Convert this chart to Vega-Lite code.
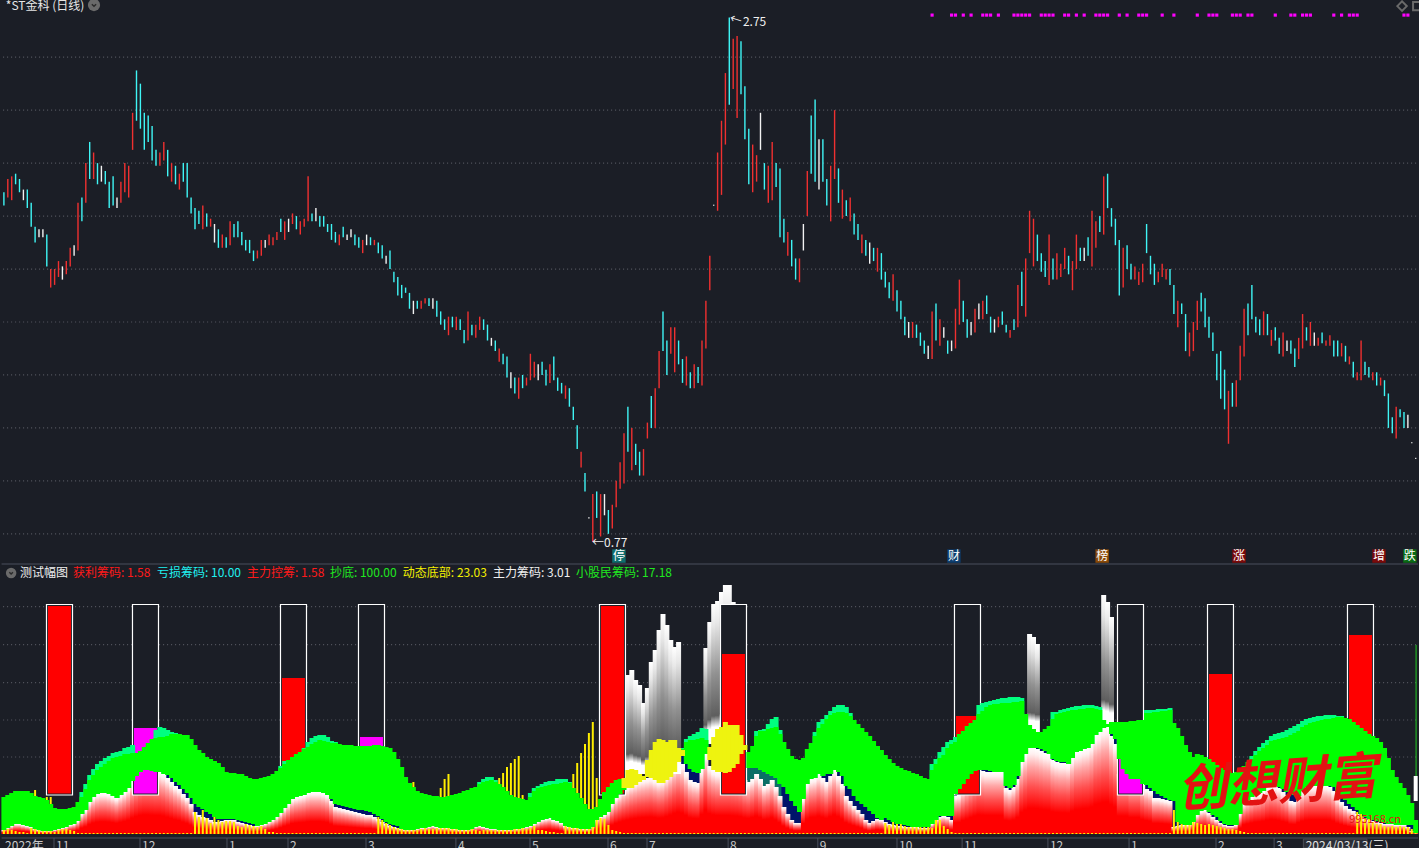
{"$schema":"https://vega.github.io/schema/vega-lite/v6.json","padding":0,"spacing":0,"bounds":"flush","background":"#1b1e26","config":{"view":{"stroke":null},"text":{"font":"Noto Sans CJK SC"},"axis":{"title":null,"labels":false,"ticks":false,"domain":false,"grid":false}},"resolve":{"scale":{"color":"independent","fill":"independent","x":"independent","y":"independent"}},
"datasets":{
"candles":[
{"i":1,"low":2.04,"high":2.09,"dir":"down"},{"i":2,"low":2.07,"high":2.14,"dir":"up"},{"i":3,"low":2.06,"high":2.15,"dir":"up"},{"i":4,"low":2.12,"high":2.16,"dir":"down"},{"i":5,"low":2.09,"high":2.14,"dir":"down"},{"i":6,"low":2.06,"high":2.10,"dir":"flat"},{"i":7,"low":2.03,"high":2.10,"dir":"down"},{"i":8,"low":1.96,"high":2.05,"dir":"down"},{"i":9,"low":1.90,"high":1.96,"dir":"down"},{"i":10,"low":1.92,"high":1.95,"dir":"flat"},
{"i":11,"low":1.92,"high":1.95,"dir":"flat"},{"i":12,"low":1.81,"high":1.93,"dir":"down"},{"i":13,"low":1.73,"high":1.80,"dir":"up"},{"i":14,"low":1.74,"high":1.80,"dir":"up"},{"i":15,"low":1.77,"high":1.83,"dir":"up"},{"i":16,"low":1.76,"high":1.81,"dir":"flat"},{"i":17,"low":1.78,"high":1.83,"dir":"up"},{"i":18,"low":1.81,"high":1.88,"dir":"up"},{"i":19,"low":1.85,"high":1.89,"dir":"flat"},{"i":20,"low":1.87,"high":2.05,"dir":"up"},
{"i":21,"low":1.98,"high":2.07,"dir":"down"},{"i":22,"low":2.05,"high":2.20,"dir":"up"},{"i":23,"low":2.14,"high":2.28,"dir":"down"},{"i":24,"low":2.14,"high":2.24,"dir":"up"},{"i":25,"low":2.12,"high":2.20,"dir":"down"},{"i":26,"low":2.13,"high":2.19,"dir":"flat"},{"i":27,"low":2.12,"high":2.17,"dir":"down"},{"i":28,"low":2.03,"high":2.13,"dir":"down"},{"i":29,"low":2.04,"high":2.15,"dir":"down"},{"i":30,"low":2.03,"high":2.07,"dir":"flat"},
{"i":31,"low":2.05,"high":2.13,"dir":"up"},{"i":32,"low":2.09,"high":2.20,"dir":"up"},{"i":33,"low":2.07,"high":2.19,"dir":"up"},{"i":34,"low":2.25,"high":2.39,"dir":"up"},{"i":35,"low":2.36,"high":2.55,"dir":"down"},{"i":36,"low":2.33,"high":2.50,"dir":"down"},{"i":37,"low":2.25,"high":2.39,"dir":"down"},{"i":38,"low":2.28,"high":2.38,"dir":"down"},{"i":39,"low":2.21,"high":2.34,"dir":"down"},{"i":40,"low":2.19,"high":2.25,"dir":"down"},
{"i":41,"low":2.19,"high":2.24,"dir":"up"},{"i":42,"low":2.21,"high":2.28,"dir":"up"},{"i":43,"low":2.15,"high":2.25,"dir":"down"},{"i":44,"low":2.13,"high":2.20,"dir":"up"},{"i":45,"low":2.12,"high":2.19,"dir":"down"},{"i":46,"low":2.10,"high":2.16,"dir":"up"},{"i":47,"low":2.13,"high":2.20,"dir":"down"},{"i":48,"low":2.07,"high":2.20,"dir":"down"},{"i":49,"low":2.01,"high":2.07,"dir":"down"},{"i":50,"low":1.95,"high":2.03,"dir":"down"},
{"i":51,"low":1.97,"high":2.02,"dir":"down"},{"i":52,"low":1.95,"high":2.04,"dir":"up"},{"i":53,"low":1.96,"high":2.01,"dir":"down"},{"i":54,"low":1.96,"high":1.99,"dir":"up"},{"i":55,"low":1.90,"high":1.97,"dir":"flat"},{"i":56,"low":1.88,"high":1.95,"dir":"down"},{"i":57,"low":1.88,"high":1.93,"dir":"up"},{"i":58,"low":1.88,"high":1.92,"dir":"down"},{"i":59,"low":1.89,"high":1.98,"dir":"up"},{"i":60,"low":1.92,"high":1.97,"dir":"down"},
{"i":61,"low":1.92,"high":1.98,"dir":"down"},{"i":62,"low":1.89,"high":1.94,"dir":"down"},{"i":63,"low":1.87,"high":1.91,"dir":"down"},{"i":64,"low":1.86,"high":1.91,"dir":"down"},{"i":65,"low":1.83,"high":1.87,"dir":"down"},{"i":66,"low":1.84,"high":1.87,"dir":"up"},{"i":67,"low":1.85,"high":1.91,"dir":"up"},{"i":68,"low":1.88,"high":1.91,"dir":"flat"},{"i":69,"low":1.89,"high":1.93,"dir":"up"},{"i":70,"low":1.89,"high":1.92,"dir":"up"},
{"i":71,"low":1.91,"high":1.94,"dir":"up"},{"i":72,"low":1.94,"high":1.99,"dir":"down"},{"i":73,"low":1.91,"high":1.98,"dir":"up"},{"i":74,"low":1.94,"high":1.99,"dir":"flat"},{"i":75,"low":1.97,"high":2.01,"dir":"up"},{"i":76,"low":1.95,"high":2.00,"dir":"down"},{"i":77,"low":1.93,"high":1.98,"dir":"up"},{"i":78,"low":1.96,"high":1.99,"dir":"up"},{"i":79,"low":1.98,"high":2.15,"dir":"up"},{"i":80,"low":1.98,"high":2.01,"dir":"down"},
{"i":81,"low":1.98,"high":2.03,"dir":"flat"},{"i":82,"low":1.96,"high":2.00,"dir":"down"},{"i":83,"low":1.96,"high":2.00,"dir":"down"},{"i":84,"low":1.94,"high":1.97,"dir":"down"},{"i":85,"low":1.91,"high":1.97,"dir":"down"},{"i":86,"low":1.90,"high":1.94,"dir":"down"},{"i":87,"low":1.89,"high":1.93,"dir":"up"},{"i":88,"low":1.92,"high":1.96,"dir":"down"},{"i":89,"low":1.91,"high":1.93,"dir":"flat"},{"i":90,"low":1.92,"high":1.95,"dir":"flat"},
{"i":91,"low":1.89,"high":1.93,"dir":"down"},{"i":92,"low":1.88,"high":1.92,"dir":"down"},{"i":93,"low":1.86,"high":1.91,"dir":"up"},{"i":94,"low":1.89,"high":1.93,"dir":"flat"},{"i":95,"low":1.89,"high":1.92,"dir":"down"},{"i":96,"low":1.89,"high":1.91,"dir":"up"},{"i":97,"low":1.86,"high":1.90,"dir":"down"},{"i":98,"low":1.84,"high":1.89,"dir":"down"},{"i":99,"low":1.82,"high":1.85,"dir":"flat"},{"i":100,"low":1.80,"high":1.87,"dir":"down"},
{"i":101,"low":1.75,"high":1.79,"dir":"down"},{"i":102,"low":1.70,"high":1.77,"dir":"down"},{"i":103,"low":1.69,"high":1.74,"dir":"down"},{"i":104,"low":1.71,"high":1.73,"dir":"down"},{"i":105,"low":1.65,"high":1.71,"dir":"down"},{"i":106,"low":1.63,"high":1.68,"dir":"flat"},{"i":107,"low":1.65,"high":1.68,"dir":"down"},{"i":108,"low":1.65,"high":1.68,"dir":"up"},{"i":109,"low":1.67,"high":1.69,"dir":"up"},{"i":110,"low":1.66,"high":1.69,"dir":"down"},
{"i":111,"low":1.65,"high":1.69,"dir":"flat"},{"i":112,"low":1.62,"high":1.68,"dir":"down"},{"i":113,"low":1.59,"high":1.64,"dir":"down"},{"i":114,"low":1.57,"high":1.61,"dir":"down"},{"i":115,"low":1.55,"high":1.62,"dir":"up"},{"i":116,"low":1.58,"high":1.62,"dir":"down"},{"i":117,"low":1.57,"high":1.62,"dir":"up"},{"i":118,"low":1.57,"high":1.61,"dir":"down"},{"i":119,"low":1.52,"high":1.57,"dir":"down"},{"i":120,"low":1.53,"high":1.64,"dir":"up"},
{"i":121,"low":1.55,"high":1.59,"dir":"down"},{"i":122,"low":1.54,"high":1.59,"dir":"up"},{"i":123,"low":1.57,"high":1.62,"dir":"up"},{"i":124,"low":1.57,"high":1.61,"dir":"down"},{"i":125,"low":1.53,"high":1.59,"dir":"down"},{"i":126,"low":1.51,"high":1.54,"dir":"flat"},{"i":127,"low":1.49,"high":1.53,"dir":"down"},{"i":128,"low":1.45,"high":1.50,"dir":"up"},{"i":129,"low":1.44,"high":1.48,"dir":"down"},{"i":130,"low":1.39,"high":1.47,"dir":"down"},
{"i":131,"low":1.35,"high":1.41,"dir":"flat"},{"i":132,"low":1.33,"high":1.39,"dir":"down"},{"i":133,"low":1.31,"high":1.39,"dir":"up"},{"i":134,"low":1.35,"high":1.40,"dir":"down"},{"i":135,"low":1.36,"high":1.39,"dir":"up"},{"i":136,"low":1.38,"high":1.48,"dir":"up"},{"i":137,"low":1.39,"high":1.45,"dir":"up"},{"i":138,"low":1.38,"high":1.44,"dir":"flat"},{"i":139,"low":1.40,"high":1.45,"dir":"down"},{"i":140,"low":1.36,"high":1.42,"dir":"down"},
{"i":141,"low":1.37,"high":1.44,"dir":"up"},{"i":142,"low":1.38,"high":1.47,"dir":"down"},{"i":143,"low":1.34,"high":1.39,"dir":"down"},{"i":144,"low":1.33,"high":1.37,"dir":"down"},{"i":145,"low":1.31,"high":1.36,"dir":"up"},{"i":146,"low":1.28,"high":1.35,"dir":"down"},{"i":147,"low":1.23,"high":1.28,"dir":"down"},{"i":148,"low":1.12,"high":1.21,"dir":"down"},{"i":149,"low":1.05,"high":1.11,"dir":"up"},{"i":150,"low":0.96,"high":1.03,"dir":"down"},
{"i":151,"low":0.858,"high":0.863,"dir":"flat"},{"i":152,"low":0.77,"high":0.95,"dir":"up"},{"i":153,"low":0.86,"high":0.96,"dir":"down"},{"i":154,"low":0.79,"high":0.95,"dir":"up"},{"i":155,"low":0.87,"high":0.95,"dir":"flat"},{"i":156,"low":0.80,"high":0.89,"dir":"down"},{"i":157,"low":0.82,"high":0.91,"dir":"up"},{"i":158,"low":0.90,"high":1.00,"dir":"up"},{"i":159,"low":0.97,"high":1.07,"dir":"up"},{"i":160,"low":0.99,"high":1.18,"dir":"up"},
{"i":161,"low":1.11,"high":1.28,"dir":"down"},{"i":162,"low":1.04,"high":1.20,"dir":"up"},{"i":163,"low":1.06,"high":1.14,"dir":"down"},{"i":164,"low":1.02,"high":1.11,"dir":"down"},{"i":165,"low":1.02,"high":1.12,"dir":"up"},{"i":166,"low":1.16,"high":1.22,"dir":"up"},{"i":167,"low":1.20,"high":1.32,"dir":"down"},{"i":168,"low":1.20,"high":1.35,"dir":"up"},{"i":169,"low":1.35,"high":1.49,"dir":"up"},{"i":170,"low":1.49,"high":1.64,"dir":"down"},
{"i":171,"low":1.40,"high":1.53,"dir":"down"},{"i":172,"low":1.48,"high":1.58,"dir":"up"},{"i":173,"low":1.41,"high":1.58,"dir":"up"},{"i":174,"low":1.44,"high":1.53,"dir":"down"},{"i":175,"low":1.37,"high":1.46,"dir":"down"},{"i":176,"low":1.36,"high":1.47,"dir":"up"},{"i":177,"low":1.35,"high":1.41,"dir":"down"},{"i":178,"low":1.35,"high":1.44,"dir":"up"},{"i":179,"low":1.37,"high":1.43,"dir":"down"},{"i":180,"low":1.36,"high":1.53,"dir":"up"},
{"i":181,"low":1.50,"high":1.68,"dir":"up"},{"i":182,"low":1.72,"high":1.85,"dir":"up"},{"i":183,"low":2.039,"high":2.043,"dir":"flat"},{"i":184,"low":2.02,"high":2.24,"dir":"up"},{"i":185,"low":2.08,"high":2.36,"dir":"up"},{"i":186,"low":2.27,"high":2.54,"dir":"up"},{"i":187,"low":2.42,"high":2.75,"dir":"down"},{"i":188,"low":2.48,"high":2.67,"dir":"up"},{"i":189,"low":2.37,"high":2.68,"dir":"up"},{"i":190,"low":2.46,"high":2.66,"dir":"down"},
{"i":191,"low":2.29,"high":2.49,"dir":"down"},{"i":192,"low":2.12,"high":2.33,"dir":"down"},{"i":193,"low":2.09,"high":2.27,"dir":"up"},{"i":194,"low":2.13,"high":2.23,"dir":"up"},{"i":195,"low":2.25,"high":2.39,"dir":"flat"},{"i":196,"low":2.10,"high":2.20,"dir":"down"},{"i":197,"low":2.05,"high":2.19,"dir":"up"},{"i":198,"low":2.06,"high":2.28,"dir":"up"},{"i":199,"low":2.11,"high":2.20,"dir":"down"},{"i":200,"low":1.92,"high":2.18,"dir":"down"},
{"i":201,"low":1.90,"high":1.99,"dir":"down"},{"i":202,"low":1.85,"high":1.94,"dir":"up"},{"i":203,"low":1.81,"high":1.91,"dir":"down"},{"i":204,"low":1.76,"high":1.84,"dir":"down"},{"i":205,"low":1.75,"high":1.84,"dir":"up"},{"i":206,"low":1.87,"high":1.97,"dir":"flat"},{"i":207,"low":2.00,"high":2.17,"dir":"up"},{"i":208,"low":2.16,"high":2.38,"dir":"down"},{"i":209,"low":2.13,"high":2.44,"dir":"down"},{"i":210,"low":2.10,"high":2.29,"dir":"flat"},
{"i":211,"low":2.13,"high":2.29,"dir":"down"},{"i":212,"low":2.04,"high":2.14,"dir":"down"},{"i":213,"low":1.98,"high":2.19,"dir":"up"},{"i":214,"low":2.14,"high":2.40,"dir":"up"},{"i":215,"low":2.05,"high":2.18,"dir":"down"},{"i":216,"low":1.99,"high":2.10,"dir":"up"},{"i":217,"low":2.00,"high":2.06,"dir":"down"},{"i":218,"low":1.98,"high":2.07,"dir":"up"},{"i":219,"low":1.93,"high":2.01,"dir":"down"},{"i":220,"low":1.91,"high":1.97,"dir":"down"},
{"i":221,"low":1.86,"high":1.93,"dir":"up"},{"i":222,"low":1.85,"high":1.91,"dir":"down"},{"i":223,"low":1.82,"high":1.90,"dir":"flat"},{"i":224,"low":1.83,"high":1.88,"dir":"down"},{"i":225,"low":1.79,"high":1.88,"dir":"up"},{"i":226,"low":1.76,"high":1.86,"dir":"down"},{"i":227,"low":1.73,"high":1.79,"dir":"down"},{"i":228,"low":1.69,"high":1.75,"dir":"down"},{"i":229,"low":1.68,"high":1.78,"dir":"up"},{"i":230,"low":1.64,"high":1.72,"dir":"down"},
{"i":231,"low":1.61,"high":1.68,"dir":"down"},{"i":232,"low":1.55,"high":1.62,"dir":"down"},{"i":233,"low":1.54,"high":1.60,"dir":"flat"},{"i":234,"low":1.54,"high":1.60,"dir":"up"},{"i":235,"low":1.54,"high":1.59,"dir":"down"},{"i":236,"low":1.51,"high":1.56,"dir":"down"},{"i":237,"low":1.48,"high":1.53,"dir":"down"},{"i":238,"low":1.46,"high":1.51,"dir":"flat"},{"i":239,"low":1.46,"high":1.64,"dir":"up"},{"i":240,"low":1.53,"high":1.67,"dir":"down"},
{"i":241,"low":1.51,"high":1.61,"dir":"up"},{"i":242,"low":1.54,"high":1.58,"dir":"flat"},{"i":243,"low":1.48,"high":1.53,"dir":"down"},{"i":244,"low":1.49,"high":1.53,"dir":"flat"},{"i":245,"low":1.50,"high":1.65,"dir":"up"},{"i":246,"low":1.59,"high":1.76,"dir":"up"},{"i":247,"low":1.60,"high":1.68,"dir":"down"},{"i":248,"low":1.54,"high":1.61,"dir":"down"},{"i":249,"low":1.55,"high":1.60,"dir":"flat"},{"i":250,"low":1.56,"high":1.65,"dir":"up"},
{"i":251,"low":1.61,"high":1.67,"dir":"flat"},{"i":252,"low":1.61,"high":1.68,"dir":"up"},{"i":253,"low":1.63,"high":1.70,"dir":"down"},{"i":254,"low":1.56,"high":1.62,"dir":"down"},{"i":255,"low":1.56,"high":1.61,"dir":"flat"},{"i":256,"low":1.58,"high":1.62,"dir":"up"},{"i":257,"low":1.59,"high":1.64,"dir":"down"},{"i":258,"low":1.56,"high":1.59,"dir":"down"},{"i":259,"low":1.54,"high":1.57,"dir":"up"},{"i":260,"low":1.57,"high":1.61,"dir":"down"},
{"i":261,"low":1.58,"high":1.74,"dir":"up"},{"i":262,"low":1.66,"high":1.79,"dir":"down"},{"i":263,"low":1.62,"high":1.84,"dir":"up"},{"i":264,"low":1.86,"high":2.02,"dir":"up"},{"i":265,"low":1.81,"high":1.99,"dir":"up"},{"i":266,"low":1.83,"high":1.93,"dir":"down"},{"i":267,"low":1.79,"high":1.86,"dir":"down"},{"i":268,"low":1.77,"high":1.83,"dir":"down"},{"i":269,"low":1.74,"high":1.93,"dir":"up"},{"i":270,"low":1.76,"high":1.84,"dir":"down"},
{"i":271,"low":1.76,"high":1.86,"dir":"up"},{"i":272,"low":1.77,"high":1.82,"dir":"up"},{"i":273,"low":1.80,"high":1.88,"dir":"up"},{"i":274,"low":1.78,"high":1.85,"dir":"down"},{"i":275,"low":1.72,"high":1.83,"dir":"up"},{"i":276,"low":1.80,"high":1.93,"dir":"up"},{"i":277,"low":1.83,"high":1.88,"dir":"down"},{"i":278,"low":1.83,"high":1.88,"dir":"flat"},{"i":279,"low":1.85,"high":1.92,"dir":"down"},{"i":280,"low":1.81,"high":2.02,"dir":"up"},
{"i":281,"low":1.88,"high":1.98,"dir":"up"},{"i":282,"low":1.94,"high":2.00,"dir":"down"},{"i":283,"low":1.93,"high":2.15,"dir":"up"},{"i":284,"low":2.03,"high":2.16,"dir":"down"},{"i":285,"low":1.96,"high":2.03,"dir":"down"},{"i":286,"low":1.89,"high":1.99,"dir":"down"},{"i":287,"low":1.70,"high":1.91,"dir":"down"},{"i":288,"low":1.73,"high":1.88,"dir":"up"},{"i":289,"low":1.80,"high":1.89,"dir":"down"},{"i":290,"low":1.76,"high":1.82,"dir":"down"},
{"i":291,"low":1.76,"high":1.81,"dir":"up"},{"i":292,"low":1.74,"high":1.79,"dir":"up"},{"i":293,"low":1.75,"high":1.82,"dir":"up"},{"i":294,"low":1.86,"high":1.97,"dir":"down"},{"i":295,"low":1.78,"high":1.85,"dir":"down"},{"i":296,"low":1.74,"high":1.82,"dir":"down"},{"i":297,"low":1.75,"high":1.79,"dir":"up"},{"i":298,"low":1.77,"high":1.82,"dir":"up"},{"i":299,"low":1.76,"high":1.80,"dir":"up"},{"i":300,"low":1.74,"high":1.80,"dir":"down"},
{"i":301,"low":1.63,"high":1.74,"dir":"down"},{"i":302,"low":1.58,"high":1.68,"dir":"up"},{"i":303,"low":1.63,"high":1.67,"dir":"down"},{"i":304,"low":1.49,"high":1.63,"dir":"down"},{"i":305,"low":1.47,"high":1.56,"dir":"up"},{"i":306,"low":1.49,"high":1.60,"dir":"up"},{"i":307,"low":1.57,"high":1.68,"dir":"up"},{"i":308,"low":1.64,"high":1.71,"dir":"down"},{"i":309,"low":1.58,"high":1.69,"dir":"down"},{"i":310,"low":1.54,"high":1.62,"dir":"down"},
{"i":311,"low":1.49,"high":1.56,"dir":"down"},{"i":312,"low":1.38,"high":1.48,"dir":"down"},{"i":313,"low":1.31,"high":1.49,"dir":"down"},{"i":314,"low":1.27,"high":1.42,"dir":"down"},{"i":315,"low":1.14,"high":1.34,"dir":"up"},{"i":316,"low":1.28,"high":1.37,"dir":"down"},{"i":317,"low":1.28,"high":1.38,"dir":"up"},{"i":318,"low":1.38,"high":1.51,"dir":"up"},{"i":319,"low":1.47,"high":1.65,"dir":"up"},{"i":320,"low":1.55,"high":1.67,"dir":"down"},
{"i":321,"low":1.61,"high":1.74,"dir":"down"},{"i":322,"low":1.56,"high":1.62,"dir":"down"},{"i":323,"low":1.55,"high":1.61,"dir":"down"},{"i":324,"low":1.55,"high":1.64,"dir":"up"},{"i":325,"low":1.55,"high":1.63,"dir":"down"},{"i":326,"low":1.51,"high":1.57,"dir":"up"},{"i":327,"low":1.53,"high":1.58,"dir":"down"},{"i":328,"low":1.48,"high":1.54,"dir":"down"},{"i":329,"low":1.47,"high":1.56,"dir":"up"},{"i":330,"low":1.49,"high":1.53,"dir":"flat"},
{"i":331,"low":1.48,"high":1.53,"dir":"down"},{"i":332,"low":1.43,"high":1.50,"dir":"down"},{"i":333,"low":1.46,"high":1.54,"dir":"up"},{"i":334,"low":1.50,"high":1.63,"dir":"up"},{"i":335,"low":1.53,"high":1.58,"dir":"down"},{"i":336,"low":1.51,"high":1.60,"dir":"up"},{"i":337,"low":1.51,"high":1.56,"dir":"flat"},{"i":338,"low":1.51,"high":1.54,"dir":"up"},{"i":339,"low":1.52,"high":1.56,"dir":"down"},{"i":340,"low":1.51,"high":1.53,"dir":"up"},
{"i":341,"low":1.51,"high":1.55,"dir":"up"},{"i":342,"low":1.47,"high":1.53,"dir":"down"},{"i":343,"low":1.47,"high":1.53,"dir":"down"},{"i":344,"low":1.47,"high":1.52,"dir":"up"},{"i":345,"low":1.45,"high":1.51,"dir":"down"},{"i":346,"low":1.44,"high":1.47,"dir":"up"},{"i":347,"low":1.39,"high":1.45,"dir":"down"},{"i":348,"low":1.38,"high":1.41,"dir":"up"},{"i":349,"low":1.38,"high":1.53,"dir":"up"},{"i":350,"low":1.40,"high":1.45,"dir":"down"},
{"i":351,"low":1.39,"high":1.43,"dir":"down"},{"i":352,"low":1.38,"high":1.41,"dir":"up"},{"i":353,"low":1.36,"high":1.41,"dir":"down"},{"i":354,"low":1.36,"high":1.39,"dir":"up"},{"i":355,"low":1.32,"high":1.38,"dir":"down"},{"i":356,"low":1.20,"high":1.33,"dir":"down"},{"i":357,"low":1.18,"high":1.24,"dir":"down"},{"i":358,"low":1.16,"high":1.28,"dir":"up"},{"i":359,"low":1.24,"high":1.27,"dir":"down"},{"i":360,"low":1.20,"high":1.26,"dir":"down"},
{"i":361,"low":1.20,"high":1.25,"dir":"flat"},{"i":362,"low":1.142,"high":1.146,"dir":"flat"},{"i":363,"low":1.083,"high":1.087,"dir":"flat"}],
"chips":[
{"i":1,"hill":4,"gtop":37,"gbot":4,"yel":4},{"i":2,"hill":6,"gtop":39,"gbot":6,"yel":5},{"i":3,"hill":8,"gtop":41,"gbot":8,"yel":4},{"i":4,"hill":10,"gtop":43,"gbot":10,"yel":3},{"i":5,"hill":10,"gtop":43,"gbot":10,"yel":2},{"i":6,"hill":9,"gtop":43,"gbot":9,"yel":2},{"i":7,"hill":8,"gtop":43,"gbot":8,"yel":1},{"i":8,"hill":7,"gtop":41,"gbot":7,"yel":6},{"i":9,"hill":5,"gtop":38,"gbot":5,"yel":44},{"i":10,"hill":4,"gtop":37,"gbot":4,"yel":5},
{"i":11,"hill":3,"gtop":36,"gbot":3,"yel":4},{"i":12,"hill":3,"gtop":34,"gbot":3,"yel":37},{"i":13,"hill":3,"gtop":30,"gbot":3,"yel":37},{"i":14,"hill":4,"gtop":26,"gbot":4,"yel":2},{"i":15,"hill":5,"gtop":25,"gbot":5,"yel":4},{"i":16,"hill":6,"gtop":25,"gbot":6,"yel":5},{"i":17,"hill":7,"gtop":25,"gbot":7,"yel":5},{"i":18,"hill":9,"gtop":26,"gbot":9,"yel":4},{"i":19,"hill":10,"gtop":27,"gbot":10,"yel":3},{"i":20,"hill":13,"gtop":32,"gbot":13,"yel":1},
{"i":21,"hill":20,"gtop":37,"gbot":20,"teal":42,"yel":1},{"i":22,"hill":24,"gtop":45,"gbot":24,"teal":50,"yel":1},{"i":23,"hill":32,"gtop":54,"gbot":32,"teal":59,"yel":1},{"i":24,"hill":37,"gtop":59,"gbot":37,"teal":65,"yel":1},{"i":25,"hill":40,"gtop":64,"gbot":40,"teal":70,"yel":1},{"i":26,"hill":41,"gtop":67,"gbot":41,"teal":73,"yel":1},{"i":27,"hill":41,"gtop":70,"gbot":41,"teal":76,"yel":1},{"i":28,"hill":40,"gtop":73,"gbot":40,"teal":78,"yel":1},{"i":29,"hill":38,"gtop":76,"gbot":38,"teal":81,"yel":1},{"i":30,"hill":36,"gtop":77,"gbot":36,"teal":82,"yel":1},
{"i":31,"hill":39,"gtop":78,"gbot":39,"teal":83,"yel":1},{"i":32,"hill":42,"gtop":80,"gbot":42,"teal":86,"yel":1},{"i":33,"hill":46,"gtop":80,"gbot":46,"teal":87,"yel":1},{"i":34,"hill":53,"gtop":81,"gbot":53,"teal":89,"yel":1},{"i":35,"hill":58,"gtop":81,"gbot":58,"yel":1},{"i":36,"hill":62,"gtop":83,"gbot":62,"yel":1},{"i":37,"hill":64,"gtop":87,"gbot":64,"yel":1},{"i":38,"hill":64,"gtop":91,"gbot":64,"yel":1},{"i":39,"hill":63,"gtop":95,"gbot":63,"yel":1},{"i":40,"hill":62,"gtop":96,"gbot":62,"teal":104,"yel":1},
{"i":41,"hill":62,"gtop":97,"gbot":62,"teal":107,"yel":1},{"i":42,"hill":60,"gtop":97,"gbot":60,"teal":106,"yel":1},{"i":43,"hill":56,"gtop":98,"gbot":59,"teal":104,"yel":1},{"i":44,"hill":52,"gtop":100,"gbot":56,"teal":102,"yel":1},{"i":45,"hill":48,"gtop":100,"gbot":52,"teal":101,"yel":1},{"i":46,"hill":45,"gtop":100,"gbot":49,"yel":1},{"i":47,"hill":40,"gtop":99,"gbot":45,"yel":1},{"i":48,"hill":36,"gtop":99,"gbot":41,"yel":1},{"i":49,"hill":30,"gtop":95,"gbot":36,"yel":1},{"i":50,"hill":22,"gtop":89,"gbot":30,"yel":22},
{"i":51,"hill":19,"gtop":84,"gbot":27,"yel":17},{"i":52,"hill":17,"gtop":81,"gbot":25,"yel":24},{"i":53,"hill":16,"gtop":77,"gbot":22,"yel":16},{"i":54,"hill":14,"gtop":75,"gbot":20,"yel":11},{"i":55,"hill":12,"gtop":73,"gbot":17,"yel":17},{"i":56,"hill":12,"gtop":71,"gbot":15,"yel":14},{"i":57,"hill":13,"gtop":67,"gbot":15,"yel":12},{"i":58,"hill":14,"gtop":62,"gbot":15,"yel":13},{"i":59,"hill":14,"gtop":61,"gbot":15,"yel":13},{"i":60,"hill":14,"gtop":61,"gbot":15,"yel":12},
{"i":61,"hill":12,"gtop":60,"gbot":14,"yel":8},{"i":62,"hill":11,"gtop":60,"gbot":13,"yel":7},{"i":63,"hill":10,"gtop":58,"gbot":12,"yel":10},{"i":64,"hill":9,"gtop":56,"gbot":11,"yel":9},{"i":65,"hill":8,"gtop":55,"gbot":10,"yel":8},{"i":66,"hill":8,"gtop":55,"gbot":8,"yel":7},{"i":67,"hill":9,"gtop":56,"gbot":9,"yel":8},{"i":68,"hill":10,"gtop":57,"gbot":10,"yel":5},{"i":69,"hill":12,"gtop":58,"gbot":12,"yel":2},{"i":70,"hill":14,"gtop":60,"gbot":14,"yel":2},
{"i":71,"hill":17,"gtop":63,"gbot":17,"yel":1},{"i":72,"hill":21,"gtop":66,"gbot":21,"teal":68,"yel":1},{"i":73,"hill":26,"gtop":70,"gbot":26,"teal":73,"yel":1},{"i":74,"hill":30,"gtop":74,"gbot":30,"yel":1},{"i":75,"hill":35,"gtop":77,"gbot":35,"yel":1},{"i":76,"hill":37,"gtop":80,"gbot":37,"yel":1},{"i":77,"hill":38,"gtop":82,"gbot":38,"yel":1},{"i":78,"hill":39,"gtop":85,"gbot":39,"teal":86,"yel":1},{"i":79,"hill":41,"gtop":87,"gbot":41,"teal":92,"yel":1},{"i":80,"hill":42,"gtop":90,"gbot":42,"teal":96,"yel":1},
{"i":81,"hill":42,"gtop":92,"gbot":42,"teal":98,"yel":1},{"i":82,"hill":42,"gtop":94,"gbot":42,"teal":99,"yel":1},{"i":83,"hill":41,"gtop":93,"gbot":41,"teal":99,"yel":1},{"i":84,"hill":39,"gtop":92,"gbot":39,"teal":97,"yel":1},{"i":85,"hill":33,"gtop":91,"gbot":35,"teal":93,"yel":1},{"i":86,"hill":27,"gtop":91,"gbot":30,"teal":92,"yel":1},{"i":87,"hill":26,"gtop":90,"gbot":29,"yel":1},{"i":88,"hill":25,"gtop":89,"gbot":28,"yel":1},{"i":89,"hill":24,"gtop":89,"gbot":27,"yel":1},{"i":90,"hill":23,"gtop":89,"gbot":26,"yel":1},
{"i":91,"hill":22,"gtop":88,"gbot":25,"yel":1},{"i":92,"hill":21,"gtop":88,"gbot":24,"yel":1},{"i":93,"hill":20,"gtop":88,"gbot":24,"yel":1},{"i":94,"hill":19,"gtop":88,"gbot":23,"yel":1},{"i":95,"hill":19,"gtop":88,"gbot":22,"yel":1},{"i":96,"hill":17,"gtop":89,"gbot":20,"yel":1},{"i":97,"hill":15,"gtop":89,"gbot":18,"yel":17},{"i":98,"hill":12,"gtop":88,"gbot":15,"yel":14},{"i":99,"hill":10,"gtop":87,"gbot":12,"yel":11},{"i":100,"hill":8,"gtop":86,"gbot":10,"yel":9},
{"i":101,"hill":7,"gtop":82,"gbot":9,"yel":7},{"i":102,"hill":6,"gtop":75,"gbot":8,"yel":6},{"i":103,"hill":5,"gtop":67,"gbot":5,"yel":5},{"i":104,"hill":4,"gtop":57,"gbot":4,"yel":4},{"i":105,"hill":4,"gtop":51,"gbot":4,"yel":5},{"i":106,"hill":4,"gtop":47,"gbot":4,"yel":52},{"i":107,"hill":5,"gtop":43,"gbot":5,"yel":4},{"i":108,"hill":6,"gtop":41,"gbot":6,"yel":5},{"i":109,"hill":6,"gtop":40,"gbot":6,"yel":6},{"i":110,"hill":7,"gtop":39,"gbot":7,"yel":5},
{"i":111,"hill":8,"gtop":38,"gbot":8,"yel":5},{"i":112,"hill":7,"gtop":38,"gbot":7,"yel":6},{"i":113,"hill":6,"gtop":37,"gbot":6,"yel":46},{"i":114,"hill":6,"gtop":37,"gbot":6,"yel":55},{"i":115,"hill":6,"gtop":38,"gbot":6,"yel":60},{"i":116,"hill":5,"gtop":39,"gbot":5,"yel":5},{"i":117,"hill":5,"gtop":40,"gbot":5,"yel":5},{"i":118,"hill":4,"gtop":41,"gbot":4,"yel":6},{"i":119,"hill":4,"gtop":43,"gbot":4,"yel":5},{"i":120,"hill":4,"gtop":44,"gbot":4,"yel":5},
{"i":121,"hill":5,"gtop":46,"gbot":5,"yel":6},{"i":122,"hill":7,"gtop":47,"gbot":7,"yel":4},{"i":123,"hill":8,"gtop":50,"gbot":8,"teal":52,"yel":3},{"i":124,"hill":7,"gtop":52,"gbot":7,"teal":55,"yel":4},{"i":125,"hill":6,"gtop":53,"gbot":6,"teal":57,"yel":4},{"i":126,"hill":5,"gtop":54,"gbot":5,"teal":57,"yel":4},{"i":127,"hill":5,"gtop":52,"gbot":5,"teal":54,"yel":4},{"i":128,"hill":4,"gtop":50,"gbot":4,"yel":56},{"i":129,"hill":4,"gtop":47,"gbot":4,"yel":61},{"i":130,"hill":4,"gtop":43,"gbot":4,"yel":67},
{"i":131,"hill":4,"gtop":39,"gbot":4,"yel":71},{"i":132,"hill":5,"gtop":37,"gbot":5,"yel":75},{"i":133,"hill":5,"gtop":36,"gbot":5,"yel":78},{"i":134,"hill":6,"gtop":35,"gbot":6,"yel":39},{"i":135,"hill":7,"gtop":34,"gbot":7,"yel":5},{"i":136,"hill":8,"gtop":37,"gbot":8,"teal":41,"yel":6},{"i":137,"hill":10,"gtop":43,"gbot":10,"teal":46,"yel":8},{"i":138,"hill":12,"gtop":46,"gbot":12,"teal":48,"yel":4},{"i":139,"hill":14,"gtop":47,"gbot":14,"teal":50,"yel":4},{"i":140,"hill":15,"gtop":48,"gbot":15,"teal":52,"yel":3},
{"i":141,"hill":16,"gtop":49,"gbot":16,"teal":53,"yel":2},{"i":142,"hill":14,"gtop":50,"gbot":14,"teal":53,"yel":2},{"i":143,"hill":13,"gtop":50,"gbot":13,"teal":55,"yel":1},{"i":144,"hill":11,"gtop":51,"gbot":11,"teal":55,"yel":1},{"i":145,"hill":8,"gtop":52,"gbot":8,"teal":55,"yel":8},{"i":146,"hill":7,"gtop":51,"gbot":7,"teal":52,"yel":7},{"i":147,"hill":6,"gtop":46,"gbot":6,"yel":60},{"i":148,"hill":6,"gtop":41,"gbot":6,"yel":71},{"i":149,"hill":5,"gtop":36,"gbot":5,"yel":81},{"i":150,"hill":5,"gtop":30,"gbot":5,"yel":90},
{"i":151,"hill":5,"gtop":25,"gbot":5,"yel":101},{"i":152,"hill":7,"gtop":25,"gbot":7,"yel":112},{"i":153,"hill":14,"gtop":27,"gbot":14,"yel":56},{"i":154,"hill":17,"gtop":35,"gbot":17,"yel":16},{"i":155,"hill":19,"gtop":42,"gbot":19,"yel":15},{"i":156,"hill":22,"gtop":47,"gbot":22,"yel":9},{"i":157,"hill":30,"gtop":51,"gbot":30,"yel":4},{"i":158,"hill":36,"gtop":54,"gbot":36,"yel":3},{"i":159,"hill":40,"gtop":55,"gbot":40,"yel":2},{"i":160,"hill":44,"gtop":50,"gbot":44,"yel":1},
{"i":161,"hill":47,"yel":1},{"i":162,"hill":50,"yel":1},{"i":163,"hill":52,"yel":1},{"i":164,"hill":54,"yel":1},{"i":165,"hill":55,"yel":1},{"i":166,"hill":56,"yel":1},{"i":167,"hill":57,"yel":1},{"i":168,"hill":55,"yel":1},{"i":169,"hill":53,"yel":1},{"i":170,"hill":54,"yel":1},
{"i":171,"hill":58,"yel":1},{"i":172,"hill":63,"yel":1},{"i":173,"hill":69,"yel":1},{"i":174,"hill":73,"yel":1},{"i":175,"hill":70,"gtop":85,"gbot":78,"teal":86,"yel":1},{"i":176,"hill":62,"gtop":92,"gbot":70,"teal":95,"yel":1},{"i":177,"hill":54,"gtop":94,"gbot":65,"teal":98,"yel":1},{"i":178,"hill":52,"gtop":94,"gbot":62,"teal":100,"yel":1},{"i":179,"hill":51,"gtop":95,"gbot":61,"teal":102,"yel":1},{"i":180,"hill":65,"gtop":96,"gbot":65,"teal":106,"yel":1},
{"i":181,"hill":80,"gtop":94,"gbot":80,"teal":105,"yel":1},{"i":182,"hill":68,"yel":1},{"i":183,"hill":64,"yel":1},{"i":184,"hill":62,"yel":1},{"i":185,"hill":62,"yel":1},{"i":186,"hill":62,"yel":1},{"i":187,"hill":62,"yel":1},{"i":188,"hill":61,"yel":1},{"i":189,"hill":60,"yel":1},{"i":190,"hill":58,"yel":1},
{"i":191,"hill":54,"yel":1},{"i":192,"hill":52,"gtop":82,"gbot":66,"yel":1},{"i":193,"hill":55,"gtop":88,"gbot":66,"yel":1},{"i":194,"hill":60,"gtop":98,"gbot":66,"teal":103,"yel":1},{"i":195,"hill":55,"gtop":103,"gbot":64,"teal":104,"yel":1},{"i":196,"hill":48,"gtop":103,"gbot":62,"teal":105,"yel":1},{"i":197,"hill":50,"gtop":105,"gbot":60,"teal":110,"yel":1},{"i":198,"hill":54,"gtop":106,"gbot":58,"teal":115,"yel":1},{"i":199,"hill":47,"gtop":107,"gbot":56,"teal":117,"yel":1},{"i":200,"hill":38,"gtop":100,"gbot":50,"teal":104,"yel":1},
{"i":201,"hill":27,"gtop":92,"gbot":47,"yel":1},{"i":202,"hill":20,"gtop":85,"gbot":40,"yel":1},{"i":203,"hill":14,"gtop":78,"gbot":33,"yel":1},{"i":204,"hill":11,"gtop":75,"gbot":28,"yel":1},{"i":205,"hill":11,"gtop":74,"gbot":22,"yel":1},{"i":206,"hill":35,"gtop":76,"gbot":35,"yel":1},{"i":207,"hill":50,"gtop":85,"gbot":50,"yel":1},{"i":208,"hill":55,"gtop":91,"gbot":55,"yel":1},{"i":209,"hill":56,"gtop":98,"gbot":56,"teal":102,"yel":1},{"i":210,"hill":60,"gtop":106,"gbot":60,"teal":112,"yel":1},
{"i":211,"hill":56,"gtop":110,"gbot":58,"teal":115,"yel":1},{"i":212,"hill":52,"gtop":115,"gbot":60,"teal":119,"yel":1},{"i":213,"hill":58,"gtop":119,"gbot":60,"teal":123,"yel":1},{"i":214,"hill":64,"gtop":121,"gbot":64,"teal":127,"yel":1},{"i":215,"hill":58,"gtop":122,"gbot":62,"teal":129,"yel":1},{"i":216,"hill":50,"gtop":122,"gbot":58,"teal":129,"yel":1},{"i":217,"hill":38,"gtop":121,"gbot":48,"teal":127,"yel":1},{"i":218,"hill":33,"gtop":118,"gbot":45,"teal":121,"yel":1},{"i":219,"hill":28,"gtop":114,"gbot":38,"yel":1},{"i":220,"hill":24,"gtop":110,"gbot":33,"yel":1},
{"i":221,"hill":20,"gtop":106,"gbot":30,"yel":1},{"i":222,"hill":14,"gtop":102,"gbot":27,"yel":1},{"i":223,"hill":11,"gtop":98,"gbot":23,"yel":1},{"i":224,"hill":13,"gtop":93,"gbot":20,"yel":1},{"i":225,"hill":15,"gtop":88,"gbot":16,"yel":1},{"i":226,"hill":14,"gtop":84,"gbot":14,"yel":1},{"i":227,"hill":12,"gtop":79,"gbot":16,"yel":11},{"i":228,"hill":10,"gtop":75,"gbot":14,"yel":9},{"i":229,"hill":9,"gtop":71,"gbot":12,"yel":12},{"i":230,"hill":8,"gtop":68,"gbot":10,"yel":11},
{"i":231,"hill":8,"gtop":66,"gbot":10,"yel":10},{"i":232,"hill":7,"gtop":64,"gbot":9,"yel":8},{"i":233,"hill":7,"gtop":63,"gbot":8,"yel":7},{"i":234,"hill":7,"gtop":61,"gbot":7,"yel":9},{"i":235,"hill":7,"gtop":60,"gbot":7,"yel":8},{"i":236,"hill":6,"gtop":58,"gbot":7,"yel":9},{"i":237,"hill":6,"gtop":56,"gbot":7,"yel":7},{"i":238,"hill":6,"gtop":55,"gbot":7,"yel":8},{"i":239,"hill":10,"gtop":64,"gbot":10,"teal":70,"yel":6},{"i":240,"hill":14,"gtop":70,"gbot":14,"teal":75,"yel":14},
{"i":241,"hill":17,"gtop":76,"gbot":18,"teal":82,"yel":14},{"i":242,"hill":18,"gtop":79,"gbot":18,"teal":87,"yel":8},{"i":243,"hill":17,"gtop":86,"gbot":18,"teal":92,"yel":5},{"i":244,"hill":14,"gtop":90,"gbot":18,"teal":94,"yel":2},{"i":245,"hill":38,"gtop":92,"gbot":40,"teal":97,"yel":1},{"i":246,"hill":39,"gtop":100,"gbot":45,"yel":1},{"i":247,"hill":45,"gtop":103,"gbot":50,"yel":1},{"i":248,"hill":50,"gtop":108,"gbot":55,"yel":1},{"i":249,"hill":55,"gtop":111,"gbot":60,"yel":1},{"i":250,"hill":60,"gtop":114,"gbot":63,"yel":1},
{"i":251,"hill":64,"gtop":120,"gbot":64,"teal":129,"yel":1},{"i":252,"hill":63,"gtop":123,"gbot":64,"teal":131,"yel":1},{"i":253,"hill":62,"gtop":127,"gbot":64,"teal":132,"yel":1},{"i":254,"hill":62,"gtop":129,"gbot":63,"teal":133,"yel":1},{"i":255,"hill":62,"gtop":130,"gbot":62,"teal":134,"yel":1},{"i":256,"hill":62,"gtop":130,"gbot":62,"teal":135,"yel":1},{"i":257,"hill":62,"gtop":131,"gbot":62,"teal":136,"yel":1},{"i":258,"hill":46,"gtop":131,"gbot":48,"teal":136,"yel":1},{"i":259,"hill":44,"gtop":131,"gbot":46,"teal":137,"yel":1},{"i":260,"hill":47,"gtop":132,"gbot":49,"teal":137,"yel":1},
{"i":261,"hill":55,"gtop":132,"gbot":58,"teal":137,"yel":1},{"i":262,"hill":72,"gtop":133,"gbot":72,"teal":136,"yel":1},{"i":263,"hill":80,"gtop":120,"gbot":80,"yel":1},{"i":264,"hill":86,"gtop":109,"gbot":86,"yel":1},{"i":265,"hill":86,"gtop":105,"gbot":86,"yel":1},{"i":266,"hill":85,"gtop":102,"gbot":86,"yel":1},{"i":267,"hill":83,"gtop":102,"gbot":85,"yel":1},{"i":268,"hill":81,"gtop":105,"gbot":83,"yel":1},{"i":269,"hill":80,"gtop":108,"gbot":80,"yel":1},{"i":270,"hill":74,"gtop":115,"gbot":75,"teal":122,"yel":1},
{"i":271,"hill":72,"gtop":120,"gbot":73,"teal":122,"yel":1},{"i":272,"hill":71,"gtop":121,"gbot":72,"teal":124,"yel":1},{"i":273,"hill":71,"gtop":122,"gbot":72,"teal":125,"yel":1},{"i":274,"hill":70,"gtop":123,"gbot":70,"teal":126,"yel":1},{"i":275,"hill":76,"gtop":124,"gbot":76,"teal":127,"yel":1},{"i":276,"hill":82,"gtop":124,"gbot":82,"teal":128,"yel":1},{"i":277,"hill":83,"gtop":125,"gbot":83,"teal":128,"yel":1},{"i":278,"hill":85,"gtop":125,"gbot":85,"teal":129,"yel":1},{"i":279,"hill":86,"gtop":126,"gbot":86,"teal":129,"yel":1},{"i":280,"hill":90,"gtop":126,"gbot":90,"teal":129,"yel":1},
{"i":281,"hill":99,"gtop":125,"gbot":99,"teal":128,"yel":1},{"i":282,"hill":102,"gtop":124,"gbot":102,"teal":127,"yel":1},{"i":283,"hill":106,"gtop":114,"gbot":106,"yel":1},{"i":284,"hill":107,"gtop":110,"gbot":107,"yel":1},{"i":285,"hill":98,"gtop":112,"gbot":100,"yel":1},{"i":286,"hill":90,"gtop":112,"gbot":95,"yel":1},{"i":287,"hill":60,"gtop":112,"gbot":75,"yel":1},{"i":288,"hill":60,"gtop":112,"gbot":65,"yel":1},{"i":289,"hill":60,"gtop":112,"gbot":60,"yel":1},{"i":290,"hill":55,"gtop":113,"gbot":55,"yel":1},
{"i":291,"hill":55,"gtop":113,"gbot":55,"yel":1},{"i":292,"hill":55,"gtop":114,"gbot":55,"yel":1},{"i":293,"hill":49,"gtop":114,"gbot":50,"yel":1},{"i":294,"hill":45,"gtop":121,"gbot":49,"teal":124,"yel":1},{"i":295,"hill":43,"gtop":121,"gbot":46,"teal":124,"yel":1},{"i":296,"hill":36,"gtop":122,"gbot":43,"teal":124,"yel":1},{"i":297,"hill":36,"gtop":122,"gbot":40,"teal":125,"yel":1},{"i":298,"hill":35,"gtop":123,"gbot":38,"teal":125,"yel":1},{"i":299,"hill":34,"gtop":123,"gbot":36,"teal":125,"yel":1},{"i":300,"hill":33,"gtop":124,"gbot":34,"teal":126,"yel":1},
{"i":301,"hill":7,"gtop":111,"gbot":33,"yel":24},{"i":302,"hill":8,"gtop":106,"gbot":12,"yel":22},{"i":303,"hill":9,"gtop":98,"gbot":10,"yel":16},{"i":304,"hill":9,"gtop":89,"gbot":9,"yel":19},{"i":305,"hill":9,"gtop":82,"gbot":9,"yel":14},{"i":306,"hill":12,"gtop":77,"gbot":12,"yel":16},{"i":307,"hill":19,"gtop":80,"gbot":19,"yel":11},{"i":308,"hill":23,"gtop":79,"gbot":23,"yel":10},{"i":309,"hill":24,"gtop":77,"gbot":24,"yel":9},{"i":310,"hill":21,"gtop":75,"gbot":22,"yel":10},
{"i":311,"hill":17,"gtop":72,"gbot":19,"yel":9},{"i":312,"hill":14,"gtop":69,"gbot":17,"yel":8},{"i":313,"hill":11,"gtop":66,"gbot":13,"yel":7},{"i":314,"hill":9,"gtop":64,"gbot":10,"yel":6},{"i":315,"hill":8,"gtop":63,"gbot":9,"yel":5},{"i":316,"hill":8,"gtop":61,"gbot":9,"yel":5},{"i":317,"hill":9,"gtop":62,"gbot":9,"yel":4},{"i":318,"hill":20,"gtop":65,"gbot":20,"yel":3},{"i":319,"hill":31,"gtop":68,"gbot":31,"yel":2},{"i":320,"hill":34,"gtop":72,"gbot":34,"yel":1},
{"i":321,"hill":37,"gtop":75,"gbot":37,"teal":78,"yel":1},{"i":322,"hill":40,"gtop":79,"gbot":40,"teal":83,"yel":1},{"i":323,"hill":41,"gtop":83,"gbot":41,"teal":87,"yel":1},{"i":324,"hill":43,"gtop":86,"gbot":43,"teal":91,"yel":1},{"i":325,"hill":47,"gtop":89,"gbot":47,"teal":94,"yel":1},{"i":326,"hill":49,"gtop":93,"gbot":49,"teal":98,"yel":1},{"i":327,"hill":48,"gtop":94,"gbot":48,"teal":100,"yel":1},{"i":328,"hill":46,"gtop":95,"gbot":47,"teal":101,"yel":1},{"i":329,"hill":42,"gtop":96,"gbot":45,"teal":102,"yel":1},{"i":330,"hill":39,"gtop":97,"gbot":42,"teal":104,"yel":1},
{"i":331,"hill":33,"gtop":99,"gbot":40,"teal":106,"yel":1},{"i":332,"hill":32,"gtop":101,"gbot":39,"teal":108,"yel":1},{"i":333,"hill":38,"gtop":103,"gbot":38,"teal":110,"yel":1},{"i":334,"hill":43,"gtop":107,"gbot":43,"teal":113,"yel":1},{"i":335,"hill":47,"gtop":109,"gbot":47,"teal":115,"yel":1},{"i":336,"hill":48,"gtop":111,"gbot":48,"teal":116,"yel":1},{"i":337,"hill":48,"gtop":112,"gbot":48,"teal":117,"yel":1},{"i":338,"hill":48,"gtop":113,"gbot":48,"teal":118,"yel":1},{"i":339,"hill":48,"gtop":114,"gbot":48,"teal":118,"yel":1},{"i":340,"hill":48,"gtop":115,"gbot":48,"teal":119,"yel":1},
{"i":341,"hill":47,"gtop":115,"gbot":48,"teal":119,"yel":1},{"i":342,"hill":43,"gtop":116,"gbot":47,"teal":119,"yel":1},{"i":343,"hill":36,"gtop":117,"gbot":42,"teal":118,"yel":1},{"i":344,"hill":32,"gtop":117,"gbot":38,"teal":118,"yel":1},{"i":345,"hill":28,"gtop":116,"gbot":34,"yel":1},{"i":346,"hill":25,"gtop":115,"gbot":30,"yel":1},{"i":347,"hill":23,"gtop":112,"gbot":27,"yel":1},{"i":348,"hill":20,"gtop":109,"gbot":24,"yel":22},{"i":349,"hill":18,"gtop":106,"gbot":20,"yel":20},{"i":350,"hill":16,"gtop":103,"gbot":17,"yel":15},
{"i":351,"hill":14,"gtop":100,"gbot":15,"yel":17},{"i":352,"hill":13,"gtop":98,"gbot":14,"yel":12},{"i":353,"hill":12,"gtop":96,"gbot":13,"yel":10},{"i":354,"hill":11,"gtop":92,"gbot":12,"yel":10},{"i":355,"hill":10,"gtop":86,"gbot":11,"yel":8},{"i":356,"hill":10,"gtop":76,"gbot":10,"yel":7},{"i":357,"hill":10,"gtop":64,"gbot":10,"yel":8},{"i":358,"hill":9,"gtop":57,"gbot":9,"yel":7},{"i":359,"hill":9,"gtop":51,"gbot":9,"yel":8},{"i":360,"hill":9,"gtop":46,"gbot":9,"yel":7},
{"i":361,"hill":7,"gtop":39,"gbot":9,"yel":7},{"i":362,"hill":3,"gtop":31,"gbot":9,"yel":5},{"i":363,"hill":1,"gtop":14,"gbot":1,"yel":1}],
"spikes":[{"i":161,"top":159,"base":60},{"i":162,"top":164,"base":60},{"i":163,"top":154,"base":60},{"i":164,"top":149,"base":60},{"i":165,"top":131,"base":60},{"i":166,"top":146,"base":60},{"i":167,"top":172,"base":60},{"i":168,"top":184,"base":60},{"i":169,"top":204,"base":60},{"i":170,"top":220,"base":60},{"i":171,"top":209,"base":60},{"i":172,"top":194,"base":60},{"i":173,"top":187,"base":60},{"i":174,"top":192,"base":60},{"i":181,"top":186,"base":90},{"i":182,"top":212,"base":90},{"i":183,"top":230,"base":90},{"i":184,"top":233,"base":90},{"i":185,"top":242,"base":90},{"i":186,"top":249,"base":90},{"i":187,"top":249,"base":90},{"i":188,"top":232,"base":90},{"i":264,"top":200,"base":102},{"i":265,"top":197,"base":102},{"i":266,"top":190,"base":102},{"i":283,"top":239,"base":108},{"i":284,"top":232,"base":108},{"i":285,"top":217,"base":108}],
"blobs":[{"i":160,"top":56,"bottom":46},{"i":161,"top":64,"bottom":46},{"i":162,"top":65,"bottom":46},{"i":163,"top":64,"bottom":49},{"i":164,"top":60,"bottom":52},{"i":165,"top":58,"bottom":54},{"i":166,"top":74,"bottom":57},{"i":167,"top":84,"bottom":56},{"i":168,"top":92,"bottom":54},{"i":169,"top":95,"bottom":51},{"i":170,"top":94,"bottom":51},{"i":171,"top":92,"bottom":54},{"i":172,"top":94,"bottom":57},{"i":173,"top":94,"bottom":62},{"i":174,"top":86,"bottom":72},{"i":175,"top":84,"bottom":78},{"i":182,"top":87,"bottom":74},{"i":183,"top":97,"bottom":64},{"i":184,"top":105,"bottom":62},{"i":185,"top":107,"bottom":62},{"i":186,"top":112,"bottom":61},{"i":187,"top":109,"bottom":62},{"i":188,"top":109,"bottom":66},{"i":189,"top":109,"bottom":70},{"i":190,"top":99,"bottom":80},{"i":191,"top":89,"bottom":84}],
"boxes":[{"from":11.92,"to":18.59,"inFrom":12.3,"inTo":18.2,"bottom":39,"top":229.5,"level":228,"kind":"red"},{"from":33.97,"to":40.64,"inFrom":34.35,"inTo":40.25,"bottom":39,"top":229.5,"level":106,"kind":"magenta"},{"from":71.92,"to":78.59,"inFrom":72.3,"inTo":78.2,"bottom":39,"top":229.5,"level":156,"kind":"red"},{"from":91.92,"to":98.59,"inFrom":92.3,"inTo":98.2,"bottom":39,"top":229.5,"level":97,"kind":"magenta"},{"from":153.72,"to":160.38,"inFrom":154.1,"inTo":160,"bottom":39,"top":229.5,"level":228,"kind":"red"},{"from":184.74,"to":191.41,"inFrom":185.12,"inTo":191.02,"bottom":39,"top":229.5,"level":180,"kind":"red"},{"from":244.74,"to":251.41,"inFrom":245.12,"inTo":251.02,"bottom":39,"top":229.5,"level":118,"kind":"red"},{"from":286.54,"to":293.21,"inFrom":286.92,"inTo":292.82,"bottom":39,"top":229.5,"level":82,"kind":"magenta"},{"from":309.62,"to":316.28,"inFrom":310,"inTo":315.9,"bottom":39,"top":229.5,"level":160,"kind":"red"},{"from":345.51,"to":352.18,"inFrom":345.9,"inTo":351.8,"bottom":39,"top":229.5,"level":199,"kind":"red"}],
"dots":[{"i":239},{"i":244},{"i":245},{"i":247},{"i":249},{"i":252},{"i":253},{"i":254},{"i":256},{"i":260},{"i":261},{"i":262},{"i":263},{"i":264},{"i":267},{"i":268},{"i":269},{"i":270},{"i":273},{"i":274},{"i":276},{"i":278},{"i":281},{"i":282},{"i":283},{"i":284},{"i":287},{"i":289},{"i":292},{"i":293},{"i":294},{"i":298},{"i":301},{"i":307},{"i":310},{"i":311},{"i":312},{"i":316},{"i":317},{"i":318},{"i":320},{"i":321},{"i":327},{"i":331},{"i":332},{"i":334},{"i":335},{"i":336},{"i":342},{"i":344},{"i":346},{"i":347},{"i":348},{"i":360},{"i":361}],
"tags":[{"i":158.7,"label":"停","kind":"a"},{"i":244.6,"label":"财","kind":"b"},{"i":282.6,"label":"榜","kind":"c"},{"i":317.7,"label":"涨","kind":"d"},{"i":353.6,"label":"增","kind":"d"},{"i":361.5,"label":"跌","kind":"e"}],
"legendText":[{"i":5.13,"label":"测试幅图","tone":"white"},{"i":18.72,"label":"获利筹码: 1.58","tone":"red"},{"i":40.26,"label":"亏损筹码: 10.00","tone":"cyan"},{"i":63.33,"label":"主力控筹: 1.58","tone":"red"},{"i":84.6,"label":"抄底: 100.00","tone":"green"},{"i":103.3,"label":"动态底部: 23.03","tone":"yellow"},{"i":126.4,"label":"主力筹码: 3.01","tone":"white"},{"i":147.7,"label":"小股民筹码: 17.18","tone":"green"}],
"months":[{"i":13.85,"label":"11"},{"i":35.9,"label":"12"},{"i":58.2,"label":"1"},{"i":73.85,"label":"2"},{"i":93.85,"label":"3"},{"i":116.9,"label":"4"},{"i":135.9,"label":"5"},{"i":155.9,"label":"6"},{"i":165.9,"label":"7"},{"i":186.7,"label":"8"},{"i":209.7,"label":"9"},{"i":230,"label":"10"},{"i":246.7,"label":"11"},{"i":268.7,"label":"12"},{"i":289.5,"label":"1"},{"i":311.8,"label":"2"},{"i":326.7,"label":"3"}]
},
"vconcat":[
{"width":1419,"height":564,"encoding":{"x":{"field":"i","type":"quantitative","scale":{"domain":[0,363.85],"nice":false,"zero":false,"padding":0},"axis":null}},
"layer":[
{"data":{"values":[{"level":0.8,"from":0.8,"to":363.6},{"level":1,"from":0.8,"to":363.6},{"level":1.2,"from":0.8,"to":363.6},{"level":1.4,"from":0.8,"to":363.6},{"level":1.6,"from":0.8,"to":363.6},{"level":1.8,"from":0.8,"to":363.6},{"level":2,"from":0.8,"to":363.6},{"level":2.2,"from":0.8,"to":363.6},{"level":2.4,"from":0.8,"to":363.6},{"level":2.6,"from":0.8,"to":363.6}]},"mark":{"type":"rule","color":"#565962","strokeWidth":1.2,"strokeDash":[1,3]},"encoding":{"x":{"field":"from","type":"quantitative","axis":null},"x2":{"field":"to"},"y":{"field":"level","type":"quantitative","scale":{"domain":[0.686,2.816],"nice":false,"zero":false},"axis":null}}},
{"data":{"name":"candles"},"mark":{"type":"rule","strokeWidth":1.4},"encoding":{"y":{"field":"low","type":"quantitative","axis":null},"y2":{"field":"high"},"color":{"field":"dir","type":"nominal","scale":{"domain":["up","down","flat"],"range":["#f03030","#3ff5f5","#f2f2f2"]},"legend":null}}},
{"data":{"name":"dots"},"transform":[{"calculate":"2.759","as":"level"}],"mark":{"type":"square","size":10,"color":"#ff00ff","opacity":1},"encoding":{"y":{"field":"level","type":"quantitative","axis":null}}},
{"data":{"name":"tags"},"transform":[{"calculate":"0.716","as":"level"}],"mark":{"type":"square","size":180,"opacity":1},"encoding":{"y":{"field":"level","type":"quantitative","axis":null},"fill":{"field":"kind","type":"nominal","scale":{"domain":["a","b","c","d","e"],"range":["#0f6e6e","#0d3d6e","#8a4a08","#7a0a0a","#0a6a14"]},"legend":null}}},
{"data":{"name":"tags"},"transform":[{"calculate":"0.716","as":"level"}],"mark":{"type":"text","fontSize":12,"color":"#ffffff"},"encoding":{"y":{"field":"level","type":"quantitative","axis":null},"text":{"field":"label"}}},
{"data":{"values":[{"i":1.5,"price":2.795,"label":"*ST金科 (日线)"}]},"mark":{"type":"text","align":"left","fontSize":12,"color":"#e6e6e6","clip":true},"encoding":{"y":{"field":"price","type":"quantitative","axis":null},"text":{"field":"label"}}},
{"data":{"values":[{"i":24.1,"price":2.797}]},"mark":{"type":"circle","size":150,"color":"#6a6a6a","opacity":1,"clip":true},"encoding":{"y":{"field":"price","type":"quantitative","axis":null}}},
{"data":{"values":[{"i":24.1,"price":2.797}]},"mark":{"type":"point","shape":"M-0.6,-0.25L0,0.35L0.6,-0.25","size":50,"stroke":"#2a2a2a","strokeWidth":1.4,"filled":false,"opacity":1,"clip":true},"encoding":{"y":{"field":"price","type":"quantitative","axis":null}}},
{"data":{"values":[{"i":359.5,"price":2.793}]},"mark":{"type":"point","shape":"diamond","size":90,"stroke":"#6a6a6a","filled":false,"opacity":1,"clip":true},"encoding":{"y":{"field":"price","type":"quantitative","axis":null}}},
{"data":{"values":[{"i":363.4,"price":2.793}]},"mark":{"type":"point","shape":"square","size":70,"stroke":"#6a6a6a","filled":false,"opacity":1,"clip":true},"encoding":{"y":{"field":"price","type":"quantitative","axis":null}}},
{"data":{"values":[{"i":190.5,"price":2.733,"label":"2.75"},{"i":151.8,"price":0.766,"label":"←0.77"}]},"mark":{"type":"text","align":"left","fontSize":12,"color":"#f0f0f0"},"encoding":{"y":{"field":"price","type":"quantitative","axis":null},"text":{"field":"label"}}},
{"data":{"values":[{"i":187.2,"price":2.748,"label":"←"}]},"mark":{"type":"text","align":"left","fontSize":12,"angle":18,"color":"#f0f0f0"},"encoding":{"y":{"field":"price","type":"quantitative","axis":null},"text":{"field":"label"}}}
]},
{"width":1419,"height":284,"encoding":{"x":{"field":"i","type":"quantitative","scale":{"domain":[0,363.85],"nice":false,"zero":false,"padding":0},"axis":null}},
"layer":[
{"data":{"values":[{"v":77,"from":0.8,"to":363.6},{"v":114,"from":0.8,"to":363.6},{"v":151.3,"from":0.8,"to":363.6},{"v":189.3,"from":0.8,"to":363.6},{"v":227.3,"from":0.8,"to":363.6}]},"mark":{"type":"rule","color":"#565962","strokeWidth":1.2,"strokeDash":[1,3]},"encoding":{"x":{"field":"from","type":"quantitative","axis":null},"x2":{"field":"to"},"y":{"field":"v","type":"quantitative","scale":{"domain":[-14,270],"nice":false,"zero":false},"axis":null}}},
{"data":{"name":"chips"},"transform":[{"filter":"isValid(datum.gbot)"}],"mark":{"type":"bar","size":5,"orient":"vertical"},"encoding":{"y":{"field":"gbot","type":"quantitative","axis":null},"y2":{"datum":0},"color":{"condition":{"test":"datum.i>=192&&datum.i<=200","value":"#0b6e66"},"value":"#00146a"}}},
{"data":{"name":"chips"},"mark":{"type":"bar","size":5,"orient":"vertical","fill":{"gradient":"linear","x1":0,"y1":1,"x2":0,"y2":0,"stops":[{"offset":0,"color":"#ff0000"},{"offset":0.3,"color":"#ff0000"},{"offset":0.55,"color":"#ff5050"},{"offset":0.78,"color":"#ffa8a8"},{"offset":0.93,"color":"#fff0f0"},{"offset":1,"color":"#ffffff"}]}},"encoding":{"y":{"field":"hill","type":"quantitative","axis":null},"y2":{"datum":0}}},
{"data":{"name":"chips"},"mark":{"type":"bar","size":2,"orient":"vertical","color":"#ffee00"},"encoding":{"y":{"field":"yel","type":"quantitative","axis":null},"y2":{"datum":0}}},
{"data":{"name":"spikes"},"mark":{"type":"bar","size":5,"orient":"vertical","fill":{"gradient":"linear","x1":0,"y1":1,"x2":0,"y2":0,"stops":[{"offset":0,"color":"#ffffff"},{"offset":0.12,"color":"#ffffff"},{"offset":0.2,"color":"#5e5e5e"},{"offset":0.5,"color":"#929292"},{"offset":0.85,"color":"#e8e8e8"},{"offset":1,"color":"#ffffff"}]}},"encoding":{"y":{"field":"top","type":"quantitative","axis":null},"y2":{"field":"base"}}},
{"data":{"name":"boxes"},"mark":{"type":"rect","fill":"#1b1e26","stroke":"#ffffff","strokeWidth":1.2},"encoding":{"x":{"field":"from","type":"quantitative","axis":null},"x2":{"field":"to"},"y":{"field":"top","type":"quantitative","axis":null},"y2":{"field":"bottom"}}},
{"data":{"name":"boxes"},"transform":[{"calculate":"datum.bottom+1.5","as":"inner"}],"mark":{"type":"rect"},"encoding":{"x":{"field":"inFrom","type":"quantitative","axis":null},"x2":{"field":"inTo"},"y":{"field":"level","type":"quantitative","axis":null},"y2":{"field":"inner"},"fill":{"field":"kind","type":"nominal","scale":{"domain":["red","magenta"],"range":["#ff0000","#ff00ff"]},"legend":null}}},
{"data":{"name":"chips"},"transform":[{"filter":"isValid(datum.teal)"}],"mark":{"type":"bar","size":5,"orient":"vertical","color":"#00ff7f"},"encoding":{"y":{"field":"teal","type":"quantitative","axis":null},"y2":{"field":"gbot"}}},
{"data":{"name":"chips"},"transform":[{"filter":"isValid(datum.gtop)"}],"mark":{"type":"bar","size":5,"orient":"vertical","color":"#00ff00"},"encoding":{"y":{"field":"gtop","type":"quantitative","axis":null},"y2":{"field":"gbot"}}},
{"data":{"name":"blobs"},"mark":{"type":"bar","size":5,"orient":"vertical","color":"#eef30f"},"encoding":{"y":{"field":"top","type":"quantitative","axis":null},"y2":{"field":"bottom"}}},
{"data":{"values":[{"i":363,"top":58,"base":33}]},"mark":{"type":"bar","size":4,"orient":"vertical","color":"#ffffff"},"encoding":{"y":{"field":"top","type":"quantitative","axis":null},"y2":{"field":"base"}}},
{"data":{"values":[{"i":363.1,"top":189,"base":58}]},"mark":{"type":"rule","strokeWidth":1,"color":"#22cc22"},"encoding":{"y":{"field":"top","type":"quantitative","axis":null},"y2":{"field":"base"}}},
{"data":{"values":[{"i":327.5,"v":49,"label":"创想财富"}]},"mark":{"type":"text","fontSize":50,"fontStyle":"italic","fontWeight":"bold","angle":-4,"color":"#e31212"},"encoding":{"y":{"field":"v","type":"quantitative","axis":null},"text":{"field":"label"}}},
{"data":{"values":[{"i":352.6,"v":14,"label":"995168.cn"}]},"mark":{"type":"text","fontSize":11,"color":"#e31212"},"encoding":{"y":{"field":"v","type":"quantitative","axis":null},"text":{"field":"label"}}},
{"data":{"name":"legendText"},"transform":[{"calculate":"261","as":"v"}],"mark":{"type":"text","align":"left","fontSize":12},"encoding":{"y":{"field":"v","type":"quantitative","axis":null},"text":{"field":"label"},"color":{"field":"tone","type":"nominal","scale":{"domain":["white","red","cyan","green","yellow"],"range":["#f0f0f0","#ff1a1a","#20f0f0","#20e820","#f5f000"]},"legend":null}}},
{"data":{"values":[{"i":2.85,"v":261}]},"mark":{"type":"circle","size":110,"color":"#6a6a6a","opacity":1},"encoding":{"y":{"field":"v","type":"quantitative","axis":null}}},
{"data":{"values":[{"i":2.85,"v":261}]},"mark":{"type":"point","shape":"M-0.6,-0.25L0,0.35L0.6,-0.25","size":36,"stroke":"#2a2a2a","strokeWidth":1.4,"filled":false,"opacity":1},"encoding":{"y":{"field":"v","type":"quantitative","axis":null}}},
{"data":{"values":[{"v":270,"from":0.4,"to":363.6},{"v":-4,"from":0.4,"to":363.6}]},"mark":{"type":"rule","color":"#4a4f5c","strokeWidth":1.2},"encoding":{"x":{"field":"from","type":"quantitative","axis":null},"x2":{"field":"to"},"y":{"field":"v","type":"quantitative","axis":null}}},
{"data":{"name":"months"},"transform":[{"calculate":"-4","as":"a"},{"calculate":"-14","as":"b"}],"mark":{"type":"rule","color":"#4a4f5c","strokeWidth":1},"encoding":{"y":{"field":"a","type":"quantitative","axis":null},"y2":{"field":"b"}}},
{"data":{"name":"months"},"transform":[{"calculate":"-7","as":"v"}],"mark":{"type":"text","align":"left","baseline":"top","dx":2,"fontSize":12,"color":"#c8c8c8","clip":true},"encoding":{"y":{"field":"v","type":"quantitative","axis":null},"text":{"field":"label"}}},
{"data":{"values":[{"i":1.3,"v":-7,"label":"2022年"}]},"mark":{"type":"text","align":"left","baseline":"top","fontSize":12,"color":"#c8c8c8","clip":true},"encoding":{"y":{"field":"v","type":"quantitative","axis":null},"text":{"field":"label"}}},
{"data":{"values":[{"from":334.2,"to":350.5,"top":-5,"bottom":-14}]},"mark":{"type":"rect","fill":"#2b2e36","stroke":"#4a4d55","strokeWidth":1},"encoding":{"x":{"field":"from","type":"quantitative","axis":null},"x2":{"field":"to"},"y":{"field":"top","type":"quantitative","axis":null},"y2":{"field":"bottom"}}},
{"data":{"values":[{"i":334.8,"v":-7,"label":"2024/03/13(三)"}]},"mark":{"type":"text","align":"left","baseline":"top","fontSize":12,"color":"#e0e0e0","clip":true},"encoding":{"y":{"field":"v","type":"quantitative","axis":null},"text":{"field":"label"}}}
]}
]}
